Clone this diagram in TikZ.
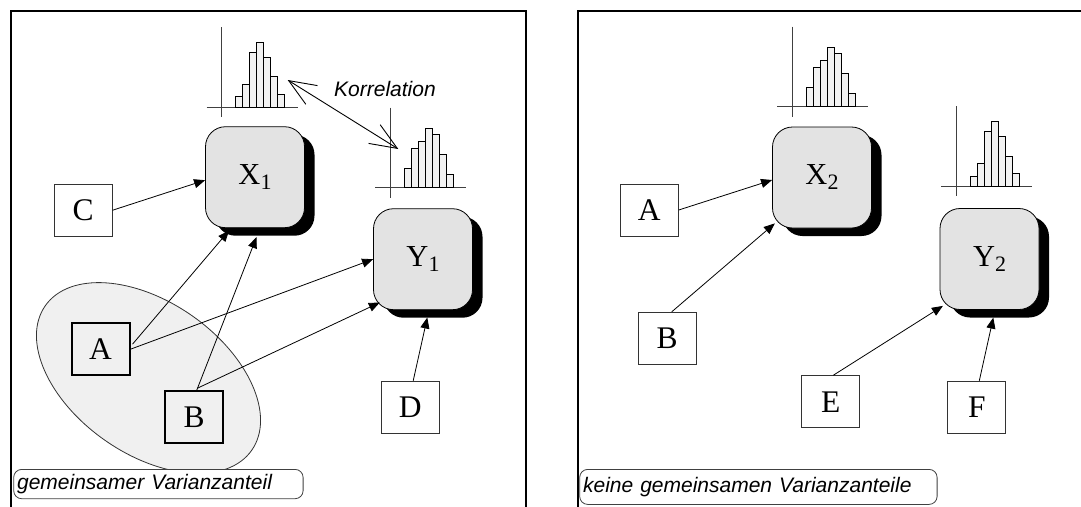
\documentclass[tikz,border=0pt]{standalone}
\usepackage{fontspec}
\setmainfont{Liberation Serif}
\newfontfamily\labfont{Liberation Sans}
\usetikzlibrary{arrows.meta,calc,shadows}

% small histogram: #1 = x of the vertical axis, #2 = baseline y, #3 = bar heights
\newcommand{\histo}[3]{%
  \draw[histaxis] (#1,#2-80) -- (#1,#2+10);
  \draw[histaxis] (#1-15,#2) -- (#1+76,#2);
  \foreach \h [count=\i from 0] in {#3}
    \draw[histbar] (#1+14+7*\i,#2) rectangle ++(7,-\h);
}

\tikzset{
  frame/.style={line width=2pt},
  histaxis/.style={draw=black!75, line width=0.9pt},
  histbar/.style={draw=black, fill=black!5, line width=0.8pt},
  srcbox/.style={draw=black!80, fill=white, line width=0.9pt, inner sep=0pt,
    minimum width=58pt, minimum height=52pt, font=\fontsize{31.5}{31.5}\selectfont},
  thickbox/.style={srcbox, draw=black, line width=2pt, fill=none},
  varbox/.style={draw=black, line width=0.8pt, fill=black!11, rounded corners=20pt,
    minimum width=99pt, minimum height=101pt, inner sep=0pt,
    font=\fontsize{30.5}{30.5}\selectfont,
    drop shadow={shadow xshift=10pt, shadow yshift=-8pt, fill=black, opacity=1}},
  arr/.style={line width=0.8pt, -{Triangle[length=11pt,width=9pt]}},
  corr/.style={line width=0.9pt,
    {Straight Barb[length=27pt,width=22pt]}-{Straight Barb[length=27pt,width=22pt]}},
  lblbox/.style={draw=black!75, fill=white, line width=0.8pt, rounded corners=8pt,
    inner ysep=0pt, inner xsep=3.4pt, anchor=north west, align=left,
    font=\labfont\itshape\fontsize{21}{21}\selectfont},
  itlab/.style={font=\labfont\itshape\fontsize{21}{21}\selectfont, inner sep=0pt}
}

\newcommand{\sub}[2]{#1\raisebox{-5pt}{\fontsize{22}{22}\selectfont #2}}

\begin{document}
\begin{tikzpicture}[x=1pt,y=-1pt]
\useasboundingbox (0,0) rectangle (1081,506);

% panel frames (open at the bottom)
\draw[frame] (11,507) -- (11,11) -- (525.5,11) -- (525.5,507);
\draw[frame] (577.7,507) -- (577.7,11) -- (1083,11);

% ---------- left panel ----------
% shared variance region
\begin{scope}[shift={(148.5,378)}, rotate=-35]
  \draw[fill=black!6, draw=black!80, line width=0.8pt] (0,0) ellipse [x radius=126pt, y radius=76pt];
\end{scope}

\histo{221.7}{107}{11,23,55,65,50,31,13}
\histo{390}{187.7}{19,39,46,59,53,33,13}

\coordinate (k1) at (287.7,80);
\coordinate (k2) at (398.3,149);
\draw[corr] (k1) -- (k2);
\node[itlab, anchor=base west] (kor) at (334,96.7) {Korrelation};

\node[varbox] (X1) at (255,177.2) {\sub{X}{1}};
\node[varbox] (Y1) at (423,259.2) {\sub{Y}{1}};

\node[srcbox] (C) at (83.2,210.2) {C};
\node[thickbox] (A) at (100.5,349.2) {A};
\node[thickbox] (B) at (194.2,417.3) {B};
\node[srcbox] (D) at (410.2,407.2) {D};

\draw[arr] (C.east) -- ($(X1.west)+(0,3)$);
\draw[arr] ($(A.east)+(2,-5)$) -- ($(X1.south)+(-26,2.5)$);
\draw[arr] ($(B.north)+(2.5,0)$) -- ($(X1.south)+(1.5,9)$);
\draw[arr] (A.east) -- (Y1.west);
\draw[arr] ($(B.north)+(3,-2)$) -- ($(Y1.south west)+(6.7,-7.6)$);
\draw[arr] ($(D.north)+(3,0)$) -- ($(Y1.south)+(4.3,7.4)$);

\node[lblbox, minimum width=289.4pt, minimum height=29.3pt, text width=282.6pt]
  (lblL) at (13.3,469) {gemeinsamer Varianzanteil};

% ---------- right panel ----------
\histo{792.3}{106.7}{19,39,46,59,53,33,13}
\histo{956}{186}{10,23,55,65,50,30,13}

\node[varbox] (X2) at (822,177.5) {\sub{X}{2}};
\node[varbox] (Y2) at (989.5,259) {\sub{Y}{2}};

\node[srcbox] (A2) at (649.3,210) {A};
\node[srcbox] (B2) at (667.2,338.3) {B};
\node[srcbox] (E) at (830.8,401.7) {E};
\node[srcbox] (F) at (976.8,407.2) {F};

\draw[arr] (A2.east) -- ($(X2.west)+(0,2.5)$);
\draw[arr] ($(B2.north)+(4.5,0)$) -- ($(X2.south west)+(2.7,-5)$);
\draw[arr] ($(E.north)+(2.5,0)$) -- ($(Y2.south west)+(3.3,-4)$);
\draw[arr] ($(F.north)+(2.5,0)$) -- ($(Y2.south)+(3.8,7.7)$);

\node[lblbox, minimum width=357.4pt, minimum height=35pt, text width=350.6pt]
  (lblR) at (579.3,469) {keine gemeinsamen Varianzanteile};
\end{tikzpicture}
\end{document}
